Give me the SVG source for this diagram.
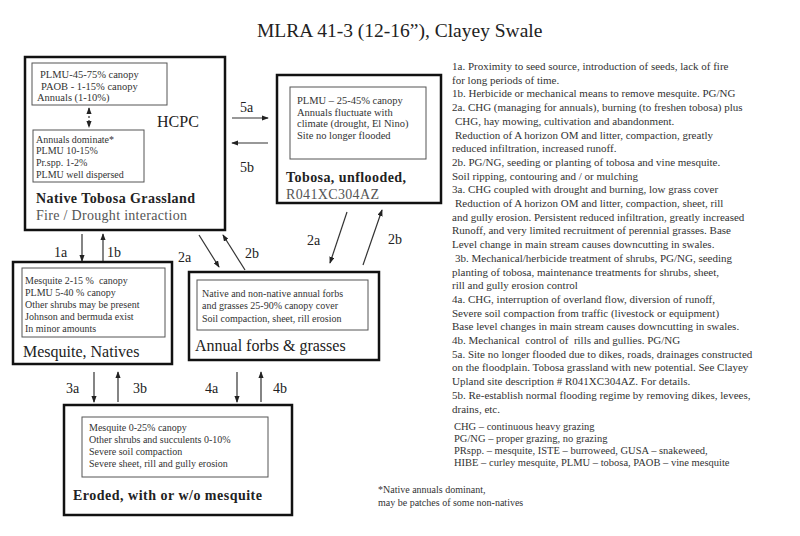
<svg xmlns="http://www.w3.org/2000/svg" width="800" height="536" viewBox="0 0 800 536">
<style>
text{font-family:"Liberation Serif","Times New Roman",serif;fill:#333}
.outer{fill:#fff;stroke:#111;stroke-width:2.5}
.inner{fill:#fff;stroke:#555;stroke-width:1}
.s{font-size:10px}
.m{font-size:10.5px}
.big{font-size:16px;fill:#222}
.bold{font-size:14px;font-weight:bold;fill:#222}
.grey{font-size:14px;fill:#555}
.lbl{font-size:14px;fill:#222}
.note{font-size:11px}
.con{stroke:#333;stroke-width:1.2;fill:none}
</style>
<defs>
<marker id="ah" viewBox="0 0 8 6" refX="7" refY="3" markerWidth="7" markerHeight="5.5" markerUnits="userSpaceOnUse" orient="auto">
<path d="M0,0 L8,3 L0,6 z" fill="#222"/>
</marker>
<marker id="as" viewBox="0 0 8 6" refX="1" refY="3" markerWidth="7" markerHeight="5.5" markerUnits="userSpaceOnUse" orient="auto">
<path d="M8,0 L0,3 L8,6 z" fill="#222"/>
</marker>
</defs>
<rect width="800" height="536" fill="#fff"/>
<text x="257" y="37" style="font-size:19.5px;fill:#222">MLRA 41-3 (12-16”), Clayey Swale</text>

<g id="hcpc">
<rect class="outer" x="25" y="57" width="200" height="173"/>
<rect class="inner" x="32" y="63" width="135" height="42"/>
<text class="m" x="40" y="78">PLMU-45-75% canopy</text>
<text class="m" x="41" y="90">PAOB - 1-15% canopy</text>
<text class="m" x="37" y="101">Annuals (1-10%)</text>
<line x1="89" y1="108" x2="89" y2="127" stroke="#333" stroke-width="1.2" stroke-dasharray="2,2" marker-start="url(#as)" marker-end="url(#ah)"/>
<rect class="inner" x="33" y="130" width="111" height="52"/>
<text class="s" x="36" y="143">Annuals dominate*</text>
<text class="s" x="36" y="154">PLMU 10-15%</text>
<text class="s" x="36" y="166">Pr.spp. 1-2%</text>
<text class="s" x="36" y="178">PLMU well dispersed</text>
<text class="big" x="157" y="127">HCPC</text>
<text class="bold" x="36" y="203" textLength="159">Native Tobosa Grassland</text>
<text class="grey" x="36" y="220" textLength="151">Fire / Drought interaction</text>
</g>

<g id="tobosa">
<rect class="outer" x="277" y="75" width="164" height="128"/>
<rect class="inner" x="290" y="87" width="136" height="72"/>
<text class="m" x="297" y="104">PLMU – 25-45% canopy</text>
<text class="m" x="297" y="116">Annuals fluctuate with</text>
<text class="m" x="297" y="127">climate (drought, El Nino)</text>
<text class="m" x="297" y="139">Site no longer flooded</text>
<text class="bold" x="286" y="182" textLength="120">Tobosa, unflooded,</text>
<text class="grey" x="286" y="199" textLength="93">R041XC304AZ</text>
</g>

<g id="mesquite">
<rect class="outer" x="13" y="262" width="159" height="102"/>
<rect class="inner" x="22" y="268" width="143" height="69"/>
<text class="s" x="25" y="284">Mesquite 2-15 %&#160; canopy</text>
<text class="s" x="25" y="296">PLMU 5-40 % canopy</text>
<text class="s" x="25" y="308">Other shrubs may be present</text>
<text class="s" x="25" y="320">Johnson and bermuda exist</text>
<text class="s" x="25" y="332">In minor amounts</text>
<text class="big" x="23" y="357">Mesquite, Natives</text>
</g>

<g id="annual">
<rect class="outer" x="189" y="272" width="190" height="88"/>
<rect class="inner" x="197" y="280" width="171" height="50"/>
<text class="s" x="202" y="297">Native and non-native annual forbs</text>
<text class="s" x="202" y="309">and grasses 25-90% canopy cover</text>
<text class="s" x="202" y="322">Soil compaction, sheet, rill erosion</text>
<text class="big" x="195" y="351">Annual forbs &amp; grasses</text>
</g>

<g id="eroded">
<rect class="outer" x="64" y="405" width="228" height="110"/>
<rect class="inner" x="82" y="417" width="186" height="60"/>
<text class="s" x="89" y="431">Mesquite 0-25% canopy</text>
<text class="s" x="89" y="443">Other shrubs and succulents 0-10%</text>
<text class="s" x="89" y="455">Severe soil compaction</text>
<text class="s" x="89" y="467">Severe sheet, rill and gully erosion</text>
<text class="bold" x="73" y="500" textLength="189">Eroded, with or w/o mesquite</text>
</g>

<g id="connectors">
<line class="con" x1="232" y1="118" x2="268" y2="118" marker-end="url(#ah)"/>
<line class="con" x1="268" y1="143" x2="232" y2="143" marker-end="url(#ah)"/>
<line class="con" x1="82" y1="234" x2="82" y2="261" marker-end="url(#ah)"/>
<line class="con" x1="103" y1="261" x2="103" y2="234" marker-end="url(#ah)"/>
<line class="con" x1="199" y1="235" x2="219" y2="267" marker-end="url(#ah)"/>
<line class="con" x1="245" y1="270" x2="223" y2="235" marker-end="url(#ah)"/>
<line class="con" x1="347" y1="212" x2="330" y2="263" marker-end="url(#ah)"/>
<line class="con" x1="363" y1="265" x2="382" y2="210" marker-end="url(#ah)"/>
<line class="con" x1="94" y1="372" x2="94" y2="402" marker-end="url(#ah)"/>
<line class="con" x1="118" y1="402" x2="118" y2="372" marker-end="url(#ah)"/>
<line class="con" x1="237" y1="372" x2="237" y2="402" marker-end="url(#ah)"/>
<line class="con" x1="261" y1="402" x2="261" y2="372" marker-end="url(#ah)"/>
<text class="lbl" x="240" y="112">5a</text>
<text class="lbl" x="240" y="172">5b</text>
<text class="lbl" x="54" y="257">1a</text>
<text class="lbl" x="107" y="257">1b</text>
<text class="lbl" x="178" y="262">2a</text>
<text class="lbl" x="245" y="258">2b</text>
<text class="lbl" x="307" y="245">2a</text>
<text class="lbl" x="388" y="244">2b</text>
<text class="lbl" x="66" y="393">3a</text>
<text class="lbl" x="133" y="393">3b</text>
<text class="lbl" x="205" y="393">4a</text>
<text class="lbl" x="273" y="393">4b</text>
</g>

<g id="notes" class="note">
<text x="452" y="70">1a. Proximity to seed source, introduction of seeds, lack of fire</text>
<text x="452" y="83.7">for long periods of time.</text>
<text x="452" y="97.4">1b. Herbicide or mechanical means to remove mesquite. PG/NG</text>
<text x="452" y="111.1">2a. CHG (managing for annuals), burning (to freshen tobosa) plus</text>
<text x="455" y="124.8">CHG, hay mowing, cultivation and abandonment.</text>
<text x="455" y="138.5">Reduction of A horizon OM and litter, compaction, greatly</text>
<text x="452" y="152.2">reduced infiltration, increased runoff.</text>
<text x="452" y="165.9">2b. PG/NG, seeding or planting of tobosa and vine mesquite.</text>
<text x="452" y="179.6">Soil ripping, contouring and / or mulching</text>
<text x="452" y="193.3">3a. CHG coupled with drought and burning, low grass cover</text>
<text x="455" y="207">Reduction of A horizon OM and litter, compaction, sheet, rill</text>
<text x="452" y="220.7">and gully erosion. Persistent reduced infiltration, greatly increased</text>
<text x="452" y="234.4">Runoff, and very limited recruitment of perennial grasses. Base</text>
<text x="452" y="248.1">Level change in main stream causes downcutting in swales.</text>
<text x="455" y="261.8">3b. Mechanical/herbicide treatment of shrubs, PG/NG, seeding</text>
<text x="452" y="275.5">planting of tobosa, maintenance treatments for shrubs, sheet,</text>
<text x="452" y="289.2">rill and gully erosion control</text>
<text x="452" y="302.9">4a. CHG, interruption of overland flow, diversion of runoff,</text>
<text x="452" y="316.6">Severe soil compaction from traffic (livestock or equipment)</text>
<text x="452" y="330.3">Base level changes in main stream causes downcutting in swales.</text>
<text x="452" y="344">4b. Mechanical&#160; control of&#160; rills and gullies. PG/NG</text>
<text x="452" y="357.7">5a. Site no longer flooded due to dikes, roads, drainages constructed</text>
<text x="452" y="371.4">on the floodplain. Tobosa grassland with new potential. See Clayey</text>
<text x="452" y="385.1">Upland site description # R041XC304AZ. For details.</text>
<text x="452" y="398.8">5b. Re-establish normal flooding regime by removing dikes, levees,</text>
<text x="452" y="412.5">drains, etc.</text>
<text class="m" x="454" y="430">CHG – continuous heavy grazing</text>
<text class="m" x="454" y="442">PG/NG – proper grazing, no grazing</text>
<text class="m" x="454" y="454">PRspp. – mesquite, ISTE – burroweed, GUSA – snakeweed,</text>
<text class="m" x="454" y="466">HIBE – curley mesquite, PLMU – tobosa, PAOB – vine mesquite</text>
<text class="s" x="378" y="493">*Native annuals dominant,</text>
<text class="s" x="378" y="506">may be patches of some non-natives</text>
</g>
</svg>
